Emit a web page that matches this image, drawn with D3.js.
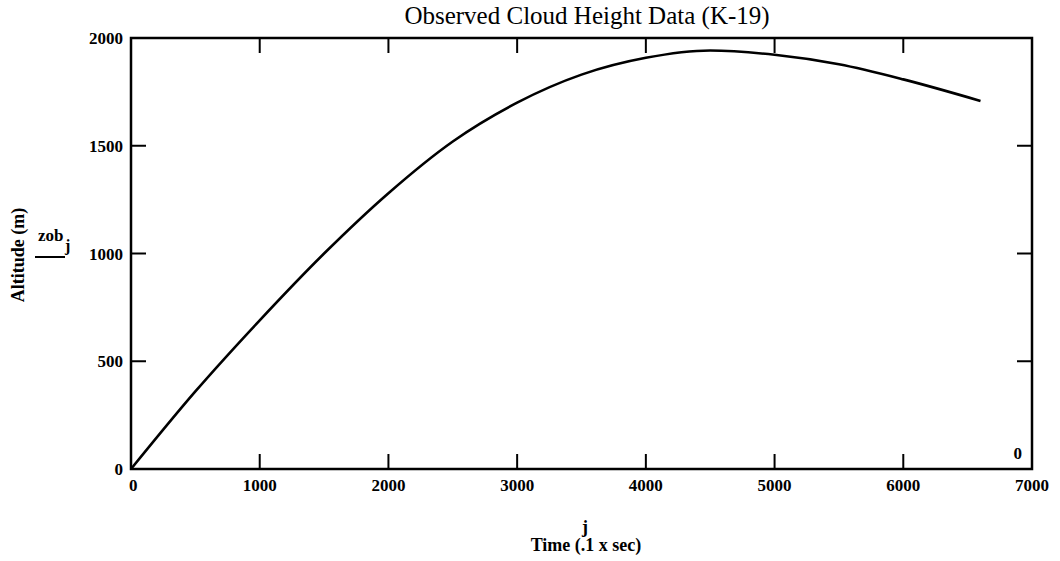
<!DOCTYPE html>
<html>
<head>
<meta charset="utf-8">
<script src="https://cdn.jsdelivr.net/npm/d3@7"></script>
<style>
  body { margin: 0; background: #fff; }
  svg text { font-family: "Liberation Serif", "Times New Roman", serif; fill: #000; }
</style>
</head>
<body>
<div id="chart"></div>
<script>
// time index j (.1 x sec) and observed cloud altitude zob_j (m)
var timeIdx = [0, 500, 1000, 1500, 2000, 2500, 3000, 3500, 4000, 4500, 5000, 5500, 6000, 6600];
var altitude = [0, 360, 690, 1000, 1280, 1520, 1700, 1830, 1908, 1942, 1922, 1878, 1808, 1708];
var xTicks = [0, 1000, 2000, 3000, 4000, 5000, 6000, 7000];
var yTicks = [0, 500, 1000, 1500, 2000];

var data = timeIdx.map(function(t, i) { return {t: t, z: altitude[i]}; });

var W = 1060, H = 561;
var margin = {top: 38, right: 28, bottom: 92, left: 131},
    width = W - margin.left - margin.right,
    height = H - margin.top - margin.bottom;

var x = d3.scaleLinear().domain([0, 7000]).range([0, width]);
var y = d3.scaleLinear().domain([0, 2000]).range([height, 0]);

var svg = d3.select("#chart").append("svg")
    .attr("width", W)
    .attr("height", H);

svg.append("text")
    .attr("x", 587).attr("y", 24)
    .attr("text-anchor", "middle")
    .style("font-size", "25px")
    .text("Observed Cloud Height Data (K-19)");

var g = svg.append("g")
    .attr("transform", "translate(" + margin.left + "," + margin.top + ")");

// tick marks inside the frame on all four sides
var tickLen = 15;
g.selectAll(".xt-b").data(xTicks.slice(1, -1)).enter().append("line")
    .attr("x1", function(d) { return x(d); }).attr("x2", function(d) { return x(d); })
    .attr("y1", height).attr("y2", height - tickLen)
    .attr("stroke", "#000").attr("stroke-width", 2);
g.selectAll(".xt-t").data(xTicks.slice(1, -1)).enter().append("line")
    .attr("x1", function(d) { return x(d); }).attr("x2", function(d) { return x(d); })
    .attr("y1", 0).attr("y2", tickLen)
    .attr("stroke", "#000").attr("stroke-width", 2);
g.selectAll(".yt-l").data(yTicks.slice(1, -1)).enter().append("line")
    .attr("x1", 0).attr("x2", tickLen)
    .attr("y1", function(d) { return y(d); }).attr("y2", function(d) { return y(d); })
    .attr("stroke", "#000").attr("stroke-width", 2);
g.selectAll(".yt-r").data(yTicks.slice(1, -1)).enter().append("line")
    .attr("x1", width).attr("x2", width - tickLen)
    .attr("y1", function(d) { return y(d); }).attr("y2", function(d) { return y(d); })
    .attr("stroke", "#000").attr("stroke-width", 2);

// frame
g.append("rect")
    .attr("width", width).attr("height", height)
    .attr("fill", "none").attr("stroke", "#000").attr("stroke-width", 2.5);

// tick labels
g.selectAll(".xl").data(xTicks).enter().append("text")
    .attr("x", function(d) { return x(d); })
    .attr("y", height + 22)
    .attr("text-anchor", function(d) { return d === 0 ? "start" : "middle"; })
    .attr("dx", function(d) { return d === 0 ? -2 : 0; })
    .style("font-size", "17px").style("font-weight", "bold")
    .text(function(d) { return d; });
g.selectAll(".yl").data(yTicks).enter().append("text")
    .attr("x", -8)
    .attr("y", function(d) { return y(d) + 6; })
    .attr("text-anchor", "end")
    .style("font-size", "17px").style("font-weight", "bold")
    .text(function(d) { return d; });

// stray "0" marker in the lower right corner
g.append("text")
    .attr("x", width - 10).attr("y", height - 10)
    .attr("text-anchor", "end")
    .style("font-size", "17px").style("font-weight", "bold")
    .text("0");

// curve
var line = d3.line()
    .x(function(d) { return x(d.t); })
    .y(function(d) { return y(d.z); })
    .curve(d3.curveMonotoneX);

g.append("path")
    .datum(data)
    .attr("fill", "none")
    .attr("stroke", "#000")
    .attr("stroke-width", 2.6)
    .attr("d", line);

// y axis labels
svg.append("text")
    .attr("transform", "translate(24,255) rotate(-90)")
    .attr("text-anchor", "middle")
    .style("font-size", "18px").style("font-weight", "bold")
    .text("Altitude (m)");
svg.append("text")
    .attr("x", 38).attr("y", 241)
    .style("font-size", "17px").style("font-weight", "bold")
    .text("zob");
svg.append("text")
    .attr("x", 65).attr("y", 251)
    .style("font-size", "16px").style("font-weight", "bold")
    .text("j");
svg.append("line")
    .attr("x1", 35).attr("x2", 65).attr("y1", 257).attr("y2", 257)
    .attr("stroke", "#000").attr("stroke-width", 2);

// x axis labels
svg.append("text")
    .attr("x", 585).attr("y", 533)
    .attr("text-anchor", "middle")
    .style("font-size", "18px").style("font-weight", "bold")
    .text("j");
svg.append("text")
    .attr("x", 586).attr("y", 551)
    .attr("text-anchor", "middle")
    .style("font-size", "18px").style("font-weight", "bold")
    .text("Time (.1 x sec)");
</script>
</body>
</html>
